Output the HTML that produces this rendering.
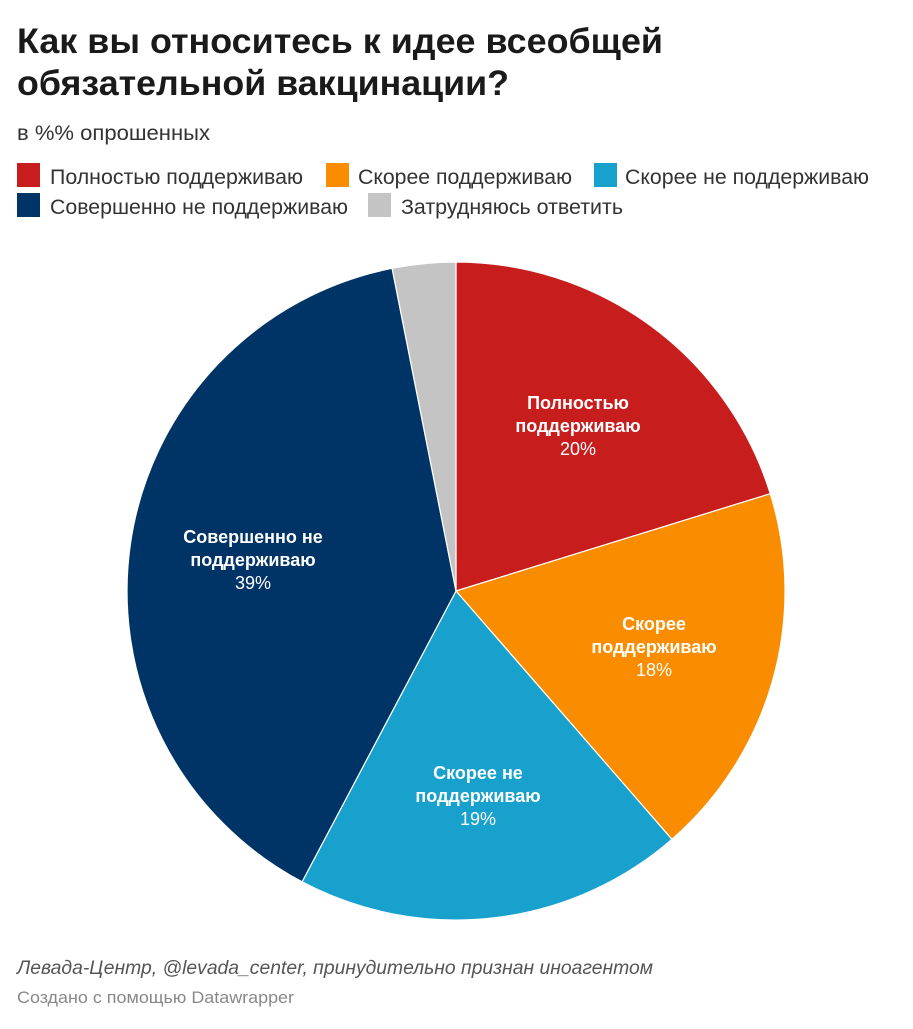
<!DOCTYPE html>
<html><head><meta charset="utf-8"><style>
html,body{margin:0;padding:0;background:#fff;}
svg text{font-family:"Liberation Sans",sans-serif;}
</style></head><body>
<svg width="913" height="1024" viewBox="0 0 913 1024" xmlns="http://www.w3.org/2000/svg">
<text x="17" y="53" font-size="35" font-weight="bold" fill="#1a1a1a" textLength="646" lengthAdjust="spacingAndGlyphs">Как вы относитесь к идее всеобщей</text>
<text x="17" y="95" font-size="35" font-weight="bold" fill="#1a1a1a" textLength="492" lengthAdjust="spacingAndGlyphs">обязательной вакцинации?</text>
<text x="17" y="140" font-size="21" fill="#333" textLength="193" lengthAdjust="spacingAndGlyphs">в %% опрошенных</text>
<rect x="17" y="163" width="23" height="24" fill="#c71e1d"/>
<text x="50" y="184" font-size="21" fill="#333" textLength="253" lengthAdjust="spacingAndGlyphs">Полностью поддерживаю</text>
<rect x="326" y="163" width="23" height="24" fill="#fa8c00"/>
<text x="358" y="184" font-size="21" fill="#333" textLength="214" lengthAdjust="spacingAndGlyphs">Скорее поддерживаю</text>
<rect x="594" y="163" width="23" height="24" fill="#18a1cd"/>
<text x="625" y="184" font-size="21" fill="#333" textLength="244" lengthAdjust="spacingAndGlyphs">Скорее не поддерживаю</text>
<rect x="17" y="193" width="23" height="24" fill="#003366"/>
<text x="50" y="214" font-size="21" fill="#333" textLength="298" lengthAdjust="spacingAndGlyphs">Совершенно не поддерживаю</text>
<rect x="368" y="193" width="23" height="24" fill="#c4c4c4"/>
<text x="401" y="214" font-size="21" fill="#333" textLength="222" lengthAdjust="spacingAndGlyphs">Затрудняюсь ответить</text>
<g stroke="#fff" stroke-width="1.2">
<path d="M456 591 L456 262 A329 329 0 0 1 770.3 493.7 Z" fill="#c71e1d"/>
<path d="M456 591 L770.3 493.7 A329 329 0 0 1 671.9 839.3 Z" fill="#fa8c00"/>
<path d="M456 591 L671.9 839.3 A329 329 0 0 1 302.1 881.8 Z" fill="#18a1cd"/>
<path d="M456 591 L302.1 881.8 A329 329 0 0 1 392.1 268.3 Z" fill="#003366"/>
<path d="M456 591 L392.1 268.3 A329 329 0 0 1 456 262 Z" fill="#c4c4c4"/>
</g>
<g fill="#fff" font-size="18" text-anchor="middle">
<text x="578" y="409" font-weight="bold">Полностью</text>
<text x="578" y="432" font-weight="bold">поддерживаю</text>
<text x="578" y="455">20%</text>
<text x="654" y="630" font-weight="bold">Скорее</text>
<text x="654" y="653" font-weight="bold">поддерживаю</text>
<text x="654" y="676">18%</text>
<text x="478" y="779" font-weight="bold">Скорее не</text>
<text x="478" y="802" font-weight="bold">поддерживаю</text>
<text x="478" y="825">19%</text>
<text x="253" y="543" font-weight="bold">Совершенно не</text>
<text x="253" y="566" font-weight="bold">поддерживаю</text>
<text x="253" y="589">39%</text>
</g>
<text x="17" y="974" font-size="19" font-style="italic" fill="#555" textLength="636" lengthAdjust="spacingAndGlyphs">Левада-Центр, @levada_center, принудительно признан иноагентом</text>
<text x="17" y="1003" font-size="17" fill="#888" textLength="277" lengthAdjust="spacingAndGlyphs">Создано с помощью Datawrapper</text>
</svg>
</body></html>
